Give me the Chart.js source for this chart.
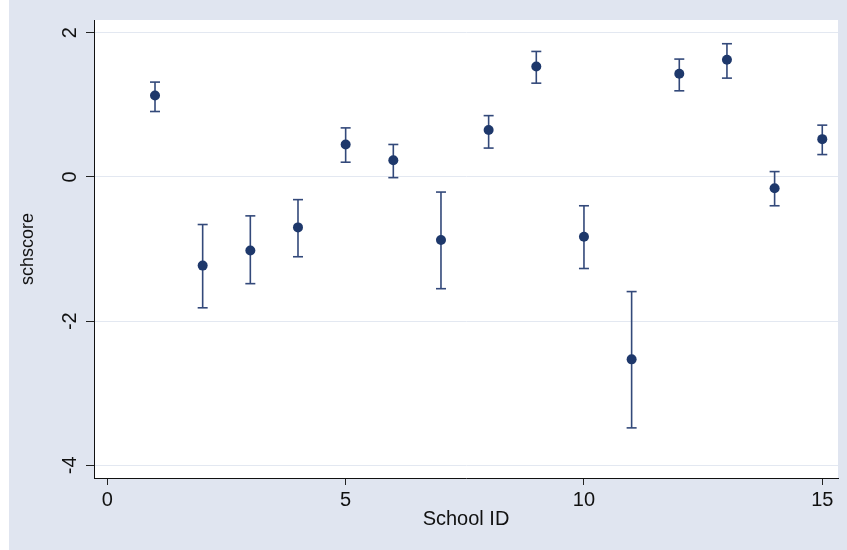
<!DOCTYPE html>
<html>
<head>
<meta charset="utf-8">
<script src="https://cdn.jsdelivr.net/npm/chart.js@4.4.1/dist/chart.umd.min.js"></script>
<style>
    html, body { margin: 0; padding: 0; background: #ffffff; }
    #wrap { width: 847px; height: 550px; }
</style>
</head>
<body>
<div id="wrap"><canvas id="schChart" width="847" height="550"></canvas></div>
<script>
const schoolIds = [1, 2, 3, 4, 5, 6, 7, 8, 9, 10, 11, 12, 13, 14, 15];
const schScore = [1.13, -1.23, -1.02, -0.70, 0.45, 0.23, -0.875, 0.65, 1.53, -0.83, -2.53, 1.43, 1.625, -0.157, 0.524];
const upperCI = [1.315, -0.66, -0.54, -0.315, 0.68, 0.45, -0.21, 0.85, 1.74, -0.40, -1.59, 1.634, 1.847, 0.074, 0.718];
const lowerCI = [0.907, -1.815, -1.48, -1.107, 0.204, -0.01, -1.55, 0.40, 1.30, -1.27, -3.48, 1.194, 1.37, -0.40, 0.31];
const xTicks = [0, 5, 10, 15];
const yTicks = [-4, -2, 0, 2];

const navy = '#1e386b';
const barColor = '#33497a';
const fontFamily = '"Liberation Sans", Arial, Helvetica, sans-serif';

// points for the CI segments, a null y breaks the line between schools
const ciPoints = [];
schoolIds.forEach((id, i) => {
    ciPoints.push({ x: id, y: lowerCI[i] });
    ciPoints.push({ x: id, y: upperCI[i] });
    ciPoints.push({ x: id, y: null });
});

const backgroundPlugin = {
    id: 'stataBackground',
    beforeDraw(chart) {
        const c = chart.ctx;
        const a = chart.chartArea;
        c.save();
        c.fillStyle = '#ffffff';
        c.fillRect(0, 0, chart.width, chart.height);
        c.fillStyle = '#e0e5f0';
        c.fillRect(9, 0, chart.width - 9, chart.height);
        c.fillStyle = '#ffffff';
        c.fillRect(a.left, a.top, a.right - a.left, a.bottom - a.top);
        c.restore();
    }
};

const ctx = document.getElementById('schChart').getContext('2d');
new Chart(ctx, {
    type: 'scatter',
    data: {
        datasets: [
            {
                label: 'CI',
                type: 'line',
                data: ciPoints,
                showLine: true,
                spanGaps: false,
                borderColor: barColor,
                borderWidth: 1.6,
                pointStyle: 'line',
                pointRadius: 5,
                pointBorderWidth: 1.6,
                pointBorderColor: barColor,
                order: 2
            },
            {
                label: 'schscore',
                data: schoolIds.map((id, i) => ({ x: id, y: schScore[i] })),
                backgroundColor: navy,
                borderColor: navy,
                borderWidth: 0,
                pointRadius: 5,
                order: 1
            }
        ]
    },
    options: {
        responsive: false,
        animation: false,
        layout: { padding: { left: 0, top: 20, right: 9, bottom: 0 } },
        plugins: {
            legend: { display: false },
            tooltip: { enabled: false }
        },
        scales: {
            x: {
                type: 'linear',
                min: -0.28,
                max: 15.33,
                afterBuildTicks: scale => { scale.ticks = xTicks.map(v => ({ value: v })); },
                afterFit: scale => { scale.height = 72; },
                border: { display: true, color: '#111111', width: 1 },
                grid: { drawOnChartArea: false, drawTicks: true, tickLength: 7, tickColor: '#222222', tickWidth: 1 },
                ticks: { color: '#111111', font: { family: fontFamily, size: 20 }, padding: 3, maxRotation: 0 },
                title: {
                    display: true,
                    text: 'School ID',
                    color: '#111111',
                    font: { family: fontFamily, size: 20, lineHeight: 1 },
                    padding: { top: 0, bottom: 21 }
                }
            },
            y: {
                type: 'linear',
                min: -4.175,
                max: 2.176,
                afterBuildTicks: scale => { scale.ticks = yTicks.map(v => ({ value: v })); },
                afterFit: scale => { scale.width = 94; },
                border: { display: true, color: '#111111', width: 1 },
                grid: { color: '#e3e8f1', lineWidth: 1, drawTicks: true, tickLength: 8, tickColor: '#222222', tickWidth: 1 },
                ticks: {
                    color: '#111111',
                    font: { family: fontFamily, size: 20 },
                    minRotation: 90,
                    maxRotation: 90,
                    crossAlign: 'center',
                    padding: 7
                },
                title: {
                    display: true,
                    text: 'schscore',
                    color: '#111111',
                    font: { family: fontFamily, size: 18, lineHeight: 1 },
                    padding: { top: 19 }
                }
            }
        }
    },
    plugins: [backgroundPlugin]
});
</script>
</body>
</html>
